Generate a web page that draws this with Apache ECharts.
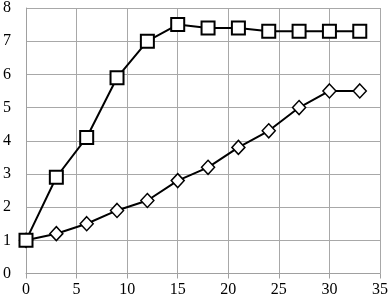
<!DOCTYPE html>
<html><head><meta charset="utf-8">
<script src="https://cdn.jsdelivr.net/npm/echarts@6/dist/echarts.min.js"></script>
<style>html,body{margin:0;padding:0;background:#fff}#c{width:391px;height:302px}</style>
</head><body><div id="c"></div>
<script>
const xValues = [0, 3, 6, 9, 12, 15, 18, 21, 24, 27, 30, 33];
const squareSeries = [1.0, 2.9, 4.1, 5.9, 7.0, 7.5, 7.4, 7.4, 7.3, 7.3, 7.3, 7.3];
const diamondSeries = [1.0, 1.2, 1.5, 1.9, 2.2, 2.8, 3.2, 3.8, 4.3, 5.0, 5.5, 5.5];

const chart = echarts.init(document.getElementById('c'), null, {renderer: 'canvas'});
const font = 'Liberation Serif';
chart.setOption({
  animation: false,
  grid: {left: 24, top: 7, right: 9, bottom: 28.5, containLabel: false},
  xAxis: {
    type: 'value', min: 0, max: 35, interval: 5,
    axisLine: {show: true, lineStyle: {color: '#a0a0a0', width: 1}},
    axisTick: {show: true, length: 5, lineStyle: {color: '#a0a0a0'}},
    axisLabel: {color: '#000', fontFamily: font, fontSize: 16, margin: 8},
    splitLine: {show: true, lineStyle: {color: '#a8a8a8', width: 1}}
  },
  yAxis: {
    type: 'value', min: 0, max: 8, interval: 1,
    axisLine: {show: true, lineStyle: {color: '#a0a0a0', width: 1}},
    axisTick: {show: false},
    axisLabel: {color: '#000', fontFamily: font, fontSize: 16, margin: 15},
    splitLine: {show: true, lineStyle: {color: '#a8a8a8', width: 1}}
  },
  series: [
    {
      type: 'line', data: xValues.map((x, i) => [x, squareSeries[i]]),
      symbol: 'rect', symbolSize: 13,
      lineStyle: {color: '#000', width: 2},
      itemStyle: {color: '#fff', borderColor: '#000', borderWidth: 2},
      z: 3
    },
    {
      type: 'line', data: xValues.map((x, i) => [x, diamondSeries[i]]),
      symbol: 'diamond', symbolSize: [13, 14],
      lineStyle: {color: '#000', width: 2},
      itemStyle: {color: '#fff', borderColor: '#000', borderWidth: 1.5},
      z: 2
    }
  ]
});
</script></body></html>
